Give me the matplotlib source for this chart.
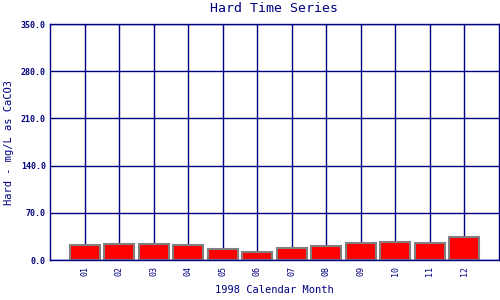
import numpy as np
import matplotlib
matplotlib.use("Agg")
import matplotlib.pyplot as plt

# Monthly hardness values (mg/L as CaCO3)
months = ["01", "02", "03", "04", "05", "06", "07", "08", "09", "10", "11", "12"]
hardness = [21.8, 23.3, 23.3, 21.8, 16.8, 11.4, 17.3, 20.3, 24.7, 26.2, 24.7, 33.6]
yticks = [0.0, 70.0, 140.0, 210.0, 280.0, 350.0]

navy = "#000080"
mono = "DejaVu Sans Mono"

fig = plt.figure(figsize=(5, 3), dpi=100)
ax = fig.add_axes([0.1, 0.1333, 0.898, 0.7867])

x = np.arange(1, len(months) + 1)
ax.bar(x, hardness, width=0.87, color="#ff0000", edgecolor="#808080",
       linewidth=1.5, zorder=3)

ax.set_xlim(0, 13)
ax.set_ylim(0, 350)
ax.set_xticks(x)
ax.set_xticklabels(months, rotation=90, fontsize=6, family=mono, color=navy)
ax.set_yticks(yticks)
ax.set_yticklabels(["%.1f" % v for v in yticks], fontsize=6, family=mono,
                   color=navy, fontweight="bold")
ax.tick_params(axis="x", length=0, pad=4)
ax.tick_params(axis="y", length=0, pad=3)

ax.grid(True, color=navy, linewidth=1.0, zorder=1)
ax.set_axisbelow(True)
for s in ax.spines.values():
    s.set_color(navy)
    s.set_linewidth(1.0)
ax.spines["bottom"].set_zorder(4)

ax.set_title("Hard Time Series", fontsize=9.5, family=mono, color=navy, pad=9)
ax.set_xlabel("1998 Calendar Month", fontsize=7.5, family=mono, color=navy,
              labelpad=7)
ax.set_ylabel("Hard - mg/L as CaCO3", fontsize=7.5, family=mono, color=navy,
              labelpad=5)

fig.savefig("out.png", dpi=100)
